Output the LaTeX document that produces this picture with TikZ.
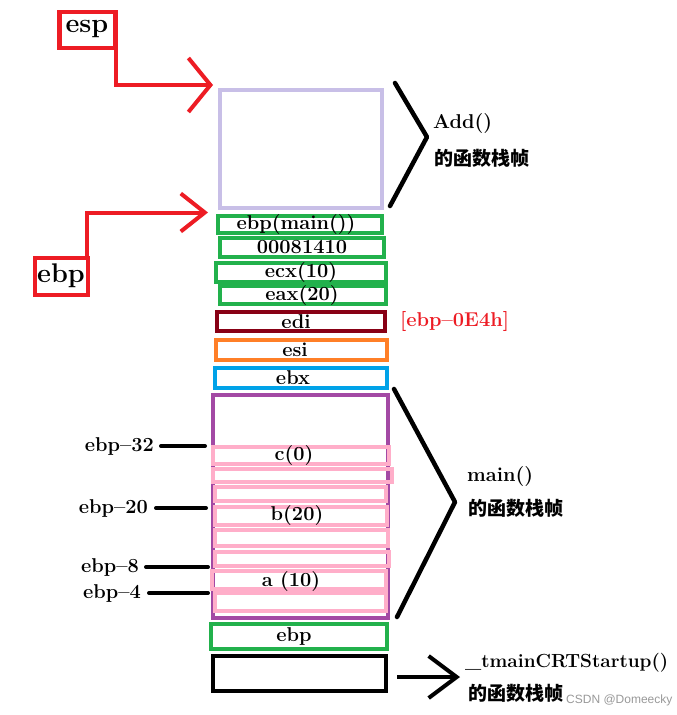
\documentclass[tikz,border=0pt]{standalone}
\usepackage{fontspec}
\newfontfamily\cjk{Noto Sans CJK SC}
\newfontfamily\wmfont{Liberation Sans}
\usetikzlibrary{arrows.meta}
\definecolor{myred}{HTML}{ED1C24}
\definecolor{lav}{HTML}{C8BFE7}
\definecolor{grn}{HTML}{22B14C}
\definecolor{dred}{HTML}{880015}
\definecolor{orng}{HTML}{FF7F27}
\definecolor{blu}{HTML}{00A2E8}
\definecolor{purp}{HTML}{A349A4}
\definecolor{pinky}{HTML}{FFAEC9}
\tikzset{
  frame/.style={draw, line width=4pt, inner sep=0pt, rectangle},
  lbl/.style={font=\fontsize{20}{20}\selectfont\bfseries, inner sep=0pt},
  big/.style={font=\fontsize{27}{27}\selectfont\bfseries, inner sep=0pt},
  zh/.style={font=\fontsize{19}{19}\selectfont\cjk\bfseries, inner sep=0pt},
  redarrow/.style={draw=myred, line width=4pt},
  bracketline/.style={draw=black, line width=4.5pt, line cap=round, line join=round},
  tick/.style={draw=black, line width=4pt, line cap=round},
}
\begin{document}
\begin{tikzpicture}[x=1pt,y=-1pt]
\useasboundingbox[fill=white] (0,0) rectangle (677,715);

% watermark
\node[font=\fontsize{12}{12}\selectfont\wmfont, text=black!40, anchor=west, inner sep=0pt] (wm) at (566,700) {CSDN @Domeecky};

% Add() frame
\node[frame, draw=lav, minimum width=162pt, minimum height=118pt] (addbox) at (301,149) {};
% green boxes
\node[frame, draw=grn, minimum width=164pt, minimum height=17pt] (b1) at (300,224) {};
\node[frame, draw=grn, minimum width=164pt, minimum height=19pt] (b2) at (302,247) {};
\node[frame, draw=grn, minimum width=170pt, minimum height=19pt] (b3) at (301,272.5) {};
\node[frame, draw=grn, minimum width=166pt, minimum height=18pt] (b4) at (303,295) {};
\node[frame, draw=dred, minimum width=168pt, minimum height=19pt] (edi) at (301,321.5) {};
\node[frame, draw=orng, minimum width=171pt, minimum height=20pt] (esi) at (301.5,350) {};
\node[frame, draw=blu, minimum width=172pt, minimum height=20pt] (ebx) at (301,378) {};
% main frame
\node[frame, draw=purp, minimum width=175pt, minimum height=223pt] (mainbox) at (300.5,506.5) {};
% pink slots
\node[frame, draw=pinky, minimum width=176pt, minimum height=17pt] (p1) at (301,455.5) {};
\node[frame, draw=pinky, minimum width=179pt, minimum height=13pt] (p2) at (302.5,475.5) {};
\node[frame, draw=pinky, minimum width=171pt, minimum height=14pt] (p3) at (300.5,494) {};
\node[frame, draw=pinky, minimum width=172pt, minimum height=18pt] (p4) at (301,516) {};
\node[frame, draw=pinky, minimum width=173pt, minimum height=16pt] (p5) at (301.5,538) {};
\node[frame, draw=pinky, minimum width=174pt, minimum height=14pt] (p6) at (302,559) {};
\node[frame, draw=pinky, minimum width=174pt, minimum height=18pt] (p7) at (299,579.5) {};
\node[frame, draw=pinky, minimum width=171pt, minimum height=18pt] (p8) at (300.5,601.5) {};
% bottom boxes
\node[frame, draw=grn, minimum width=176pt, minimum height=25pt] (ebpb) at (299,636.5) {};
\node[frame, draw=black, minimum width=173pt, minimum height=35pt] (crt) at (299.5,673.5) {};

% box texts
\node[lbl] (t1) at (296,225) {ebp(main())};
\node[lbl] (t2) at (302,247) {00081410};
\node[lbl] (t3) at (301,273) {ecx(10)};
\node[lbl] (t4) at (302,296) {eax(20)};
\node[lbl] (tedi) at (296,322) {edi};
\node[lbl] (tesi) at (295,350) {esi};
\node[lbl] (tebx) at (293,378) {ebx};
\node[lbl] (tc) at (294,456) {c(0)};
\node[lbl] (tb) at (297,516) {b(20)};
\node[lbl] (ta) at (291,582) {a (10)};
\node[lbl] (tebp) at (294,636) {ebp};

% esp / ebp pointers
\node[frame, draw=myred, line width=4.5pt, minimum width=56pt, minimum height=36pt] (esp) at (87.5,30) {};
\node[big] (esptxt) at (87,29) {esp};
\node[frame, draw=myred, line width=4.5pt, minimum width=53pt, minimum height=37pt] (ebpr) at (61.5,276.5) {};
\node[big] (ebptxt) at (61,276) {ebp};

\draw[redarrow, -{Straight Barb[length=22pt,width=54pt]}]
  ([xshift=-2pt]esp.south east) |- ([xshift=-5pt,yshift=3pt]addbox.north west);
\draw[redarrow, -{Straight Barb[length=24pt,width=38pt]}]
  ([xshift=-3pt]ebpr.north east) |- ([xshift=-8pt,yshift=1pt]b1.north west);

% offset labels
\node[lbl, anchor=east] (l32) at (154,446) {ebp--32};
\node[lbl, anchor=east] (l20) at (148,508) {ebp--20};
\node[lbl, anchor=east] (l8) at (139,567) {ebp--8};
\node[lbl, anchor=east] (l4) at (141,593) {ebp--4};
\draw[tick] ([xshift=7pt]l32.east) -- ([xshift=-6pt]l32.east -| p1.west);
\draw[tick] ([xshift=8pt]l20.east) -- ([xshift=-7pt]l20.east -| p4.west);
\draw[tick] ([xshift=7pt]l8.east) -- ([xshift=-5pt]l8.east -| p6.west);
\draw[tick] ([xshift=8pt]l4.east) -- ([xshift=-2pt]l4.east -| p7.west);

% red address note
\node[lbl, text=myred, anchor=west] (addr) at (400,321) {[ebp--0E4h]};

% Add() bracket
\coordinate (a1) at (395,83);
\coordinate (a2) at (427,137);
\coordinate (a3) at (390,206);
\draw[bracketline] (a1) -- (a2) -- (a3);
\node[lbl, anchor=west] (addtxt) at (433,124) {Add()};
\node[zh, anchor=west] (addzh) at (434,158) {的函数栈帧};

% main() bracket
\coordinate (m1) at (394,389);
\coordinate (m2) at (455,502);
\coordinate (m3) at (397,617);
\draw[bracketline] (m1) -- (m2) -- (m3);
\node[lbl, anchor=west] (maintxt) at (467,477) {main()};
\node[zh, anchor=west] (mainzh) at (468,508) {的函数栈帧};

% _tmainCRTStartup arrow
\coordinate (tmend) at (460,677);
\draw[draw=black, line width=4pt, -{Straight Barb[length=28pt,width=42pt]}]
  ([xshift=9pt,yshift=-3.5pt]crt.east) -- (tmend);
\node[lbl, font=\fontsize{19}{19}\selectfont\bfseries, anchor=west] (tmtxt) at (465,663) {\_tmainCRTStartup()};
\node[zh, anchor=west] (tmzh) at (468,693) {的函数栈帧};
\end{tikzpicture}
\end{document}
